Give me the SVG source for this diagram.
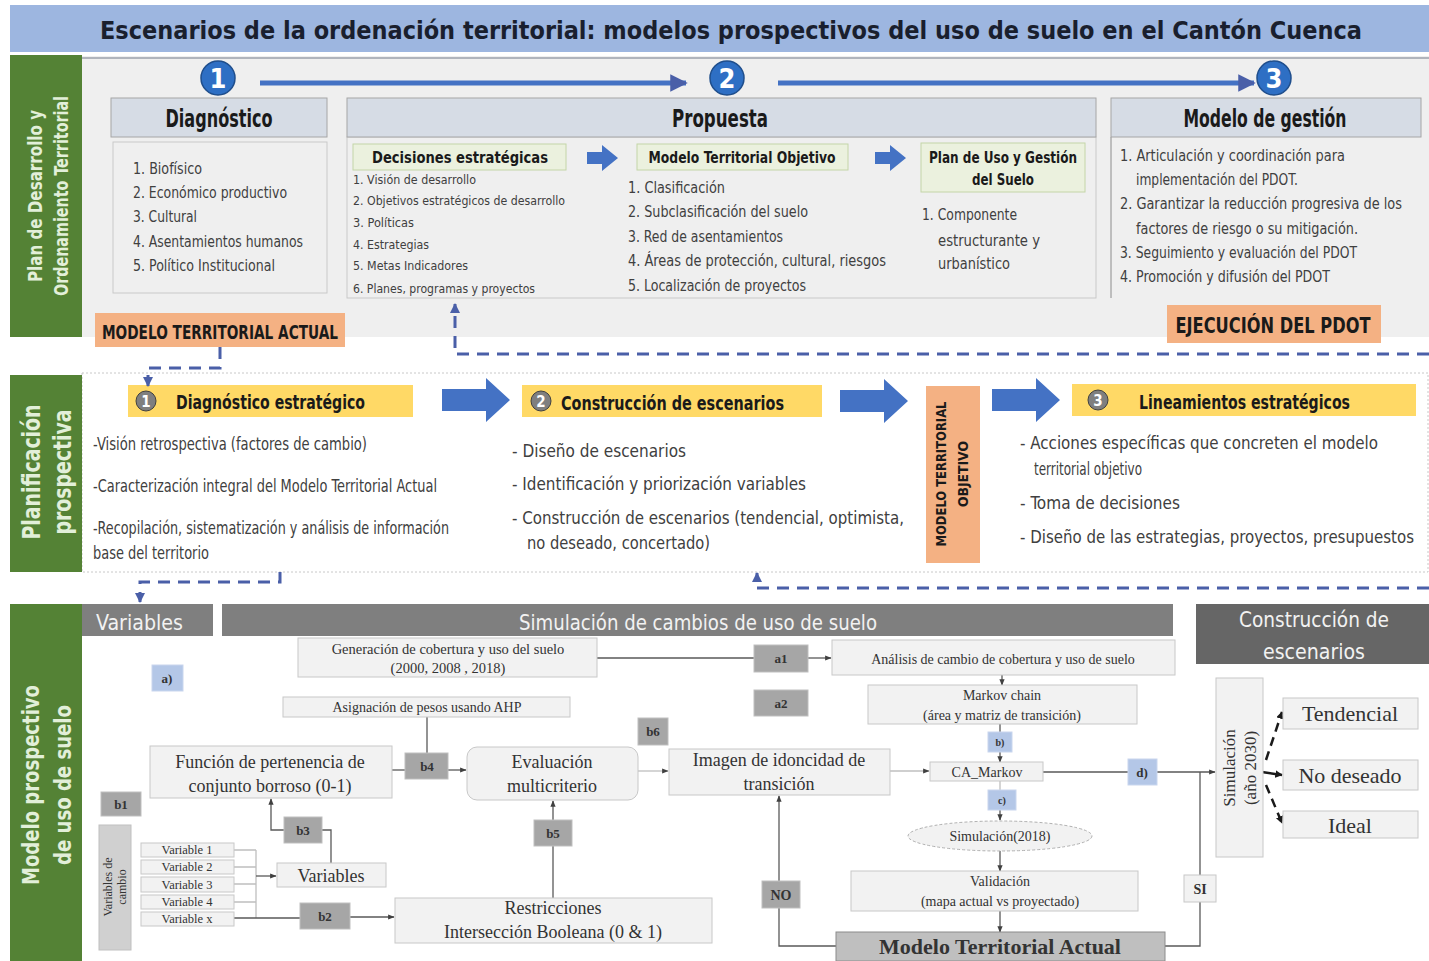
<svg xmlns="http://www.w3.org/2000/svg" width="1429" height="961" viewBox="0 0 1429 961">
<defs>
<style>
.c{font-family:"Liberation Sans Narrow","DejaVu Sans Condensed","Liberation Sans",sans-serif;font-stretch:condensed}
.b{font-weight:bold}
.s{font-family:"Liberation Serif","DejaVu Serif",serif;fill:#333}
.side{fill:#548235}
.sidet{fill:#e2efd9;font-weight:bold}
.hdr{fill:#d6dce5;stroke:#a6a6a6;stroke-width:1}
.body{fill:#efefef;stroke:#c9c9c9;stroke-width:1}
.grn{fill:#ebf1de;stroke:#c4d5a8;stroke-width:1}
.lst{fill:#404040}
.org{fill:#f4b183}
.yel{fill:#ffd966}
.gh{fill:#7f7f7f}
.ght{fill:#f2f2f2}
.nd{fill:#f2f2f2;stroke:#c8c8c8;stroke-width:1}
.lb{fill:#a6a6a6;stroke:#bfbfbf;stroke-width:1}
.lbb{fill:#b4c7e7;stroke:#c9d6ee;stroke-width:1}
.ln{fill:none;stroke:#595959;stroke-width:1.3}
.lnl{fill:none;stroke:#bfbfbf;stroke-width:1.3}
.dsh{fill:none;stroke:#4a5fa8;stroke-width:3;stroke-dasharray:12,8}
.blu{fill:#4472c4}
</style>
<marker id="ah" viewBox="0 0 10 10" refX="9" refY="5" markerWidth="5" markerHeight="5" orient="auto"><path d="M0,1 L10,5 L0,9 z" fill="#404040"/></marker>
<marker id="ahb" viewBox="0 0 10 10" refX="9" refY="5" markerWidth="3.5" markerHeight="3.5" orient="auto"><path d="M0,0 L10,5 L0,10 z" fill="#4a5fa8"/></marker>
<marker id="ahk" viewBox="0 0 10 10" refX="9" refY="5" markerWidth="3" markerHeight="3" orient="auto"><path d="M0,0 L10,5 L0,10 z" fill="#1a1a1a"/></marker>
</defs>
<rect width="1429" height="961" fill="#ffffff"/>

<g id="title">
<rect x="10" y="5" width="1419" height="47" fill="#9db6e0"/>
<text x="731" y="39" text-anchor="middle" class="c b" font-size="25" fill="#1a1f2e" textLength="1262" lengthAdjust="spacingAndGlyphs">Escenarios de la ordenación territorial: modelos prospectivos del uso de suelo en el Cantón Cuenca</text>
</g>

<!-- SECTION 1 -->
<g id="sec1">
<rect x="82" y="56" width="1347" height="281" fill="#efefef"/>
<line x1="82" y1="58" x2="1429" y2="58" stroke="#b0b4bc" stroke-width="2"/>
<rect x="10" y="55" width="72" height="282" class="side"/>
<text transform="translate(42,196) rotate(-90)" text-anchor="middle" class="c sidet" font-size="19" textLength="172" lengthAdjust="spacingAndGlyphs">Plan de Desarrollo y</text>
<text transform="translate(68,196) rotate(-90)" text-anchor="middle" class="c sidet" font-size="19" textLength="200" lengthAdjust="spacingAndGlyphs">Ordenamiento Territorial</text>
</g>

<g id="steps">
<circle cx="218" cy="78" r="17" fill="#2e6fc4" stroke="#1f4e8c" stroke-width="1.5"/>
<text x="218" y="88" text-anchor="middle" class="c b" font-size="27" fill="#fff">1</text>
<circle cx="727" cy="78" r="17" fill="#2e6fc4" stroke="#1f4e8c" stroke-width="1.5"/>
<text x="727" y="88" text-anchor="middle" class="c b" font-size="27" fill="#fff">2</text>
<circle cx="1274" cy="78" r="17" fill="#2e6fc4" stroke="#1f4e8c" stroke-width="1.5"/>
<text x="1274" y="88" text-anchor="middle" class="c b" font-size="27" fill="#fff">3</text>
</g>

<g id="diagnostico">
<rect x="111" y="98" width="216" height="39" class="hdr"/>
<text x="219" y="127" text-anchor="middle" class="c b" font-size="24" fill="#1a1a1a" textLength="107" lengthAdjust="spacingAndGlyphs">Diagnóstico</text>
<rect x="113" y="142" width="214" height="151" class="body"/>
<text x="133" y="174" class="c lst" font-size="16" textLength="69" lengthAdjust="spacingAndGlyphs">1. Biofísico</text>
<text x="133" y="198" class="c lst" font-size="16" textLength="154" lengthAdjust="spacingAndGlyphs">2. Económico productivo</text>
<text x="133" y="222" class="c lst" font-size="16" textLength="64" lengthAdjust="spacingAndGlyphs">3. Cultural</text>
<text x="133" y="247" class="c lst" font-size="16" textLength="170" lengthAdjust="spacingAndGlyphs">4. Asentamientos humanos</text>
<text x="133" y="271" class="c lst" font-size="16" textLength="142" lengthAdjust="spacingAndGlyphs">5. Político Institucional</text>
</g>

<g id="propuesta">
<rect x="347" y="137" width="749" height="161" class="body"/>
<rect x="347" y="98" width="749" height="39" class="hdr"/>
<text x="720" y="127" text-anchor="middle" class="c b" font-size="24" fill="#1a1a1a" textLength="96" lengthAdjust="spacingAndGlyphs">Propuesta</text>
<rect x="353" y="144" width="213" height="26" class="grn"/>
<text x="460" y="163" text-anchor="middle" class="c b" font-size="16" fill="#1a1a1a" textLength="176" lengthAdjust="spacingAndGlyphs">Decisiones estratégicas</text>
<text x="353" y="184" class="c lst" font-size="12" textLength="123" lengthAdjust="spacingAndGlyphs">1. Visión de desarrollo</text>
<text x="353" y="205" class="c lst" font-size="12" textLength="212" lengthAdjust="spacingAndGlyphs">2. Objetivos estratégicos de desarrollo</text>
<text x="353" y="227" class="c lst" font-size="12" textLength="61" lengthAdjust="spacingAndGlyphs">3. Políticas</text>
<text x="353" y="249" class="c lst" font-size="12" textLength="76" lengthAdjust="spacingAndGlyphs">4. Estrategias</text>
<text x="353" y="270" class="c lst" font-size="12" textLength="115" lengthAdjust="spacingAndGlyphs">5. Metas Indicadores</text>
<text x="353" y="293" class="c lst" font-size="12" textLength="182" lengthAdjust="spacingAndGlyphs">6. Planes, programas y proyectos</text>
<path d="M587,152 h15 v-7 l16,13 l-16,13 v-7 h-15 z" class="blu"/>
<rect x="637" y="144" width="211" height="26" class="grn"/>
<text x="742" y="163" text-anchor="middle" class="c b" font-size="16" fill="#1a1a1a" textLength="187" lengthAdjust="spacingAndGlyphs">Modelo Territorial Objetivo</text>
<text x="628" y="193" class="c lst" font-size="16" textLength="97" lengthAdjust="spacingAndGlyphs">1. Clasificación</text>
<text x="628" y="217" class="c lst" font-size="16" textLength="180" lengthAdjust="spacingAndGlyphs">2. Subclasificación del suelo</text>
<text x="628" y="242" class="c lst" font-size="16" textLength="155" lengthAdjust="spacingAndGlyphs">3. Red de asentamientos</text>
<text x="628" y="266" class="c lst" font-size="16" textLength="258" lengthAdjust="spacingAndGlyphs">4. Áreas de protección, cultural, riesgos</text>
<text x="628" y="291" class="c lst" font-size="16" textLength="178" lengthAdjust="spacingAndGlyphs">5. Localización de proyectos</text>
<path d="M875,152 h15 v-7 l16,13 l-16,13 v-7 h-15 z" class="blu"/>
<rect x="921" y="143" width="164" height="49" class="grn"/>
<text x="1003" y="163" text-anchor="middle" class="c b" font-size="16" fill="#1a1a1a" textLength="148" lengthAdjust="spacingAndGlyphs">Plan de Uso y Gestión</text>
<text x="1003" y="185" text-anchor="middle" class="c b" font-size="16" fill="#1a1a1a" textLength="62" lengthAdjust="spacingAndGlyphs">del Suelo</text>
<text x="922" y="220" class="c lst" font-size="16" textLength="95" lengthAdjust="spacingAndGlyphs">1. Componente</text>
<text x="938" y="246" class="c lst" font-size="16" textLength="102" lengthAdjust="spacingAndGlyphs">estructurante y</text>
<text x="938" y="269" class="c lst" font-size="16" textLength="72" lengthAdjust="spacingAndGlyphs">urbanístico</text>
</g>

<g id="modelo-gestion">
<rect x="1111" y="137" width="310" height="161" fill="#efefef"/>
<line x1="1111" y1="137" x2="1111" y2="298" stroke="#8c8c8c" stroke-width="1"/>
<rect x="1111" y="98" width="310" height="39" class="hdr"/>
<text x="1265" y="127" text-anchor="middle" class="c b" font-size="24" fill="#1a1a1a" textLength="163" lengthAdjust="spacingAndGlyphs">Modelo de gestión</text>
<text x="1120" y="161" class="c lst" font-size="16" textLength="225" lengthAdjust="spacingAndGlyphs">1. Articulación y coordinación para</text>
<text x="1136" y="185" class="c lst" font-size="16" textLength="162" lengthAdjust="spacingAndGlyphs">implementación del PDOT.</text>
<text x="1120" y="209" class="c lst" font-size="15" textLength="282" lengthAdjust="spacingAndGlyphs">2. Garantizar la reducción progresiva de los</text>
<text x="1136" y="234" class="c lst" font-size="16" textLength="222" lengthAdjust="spacingAndGlyphs">factores de riesgo o su mitigación.</text>
<text x="1120" y="258" class="c lst" font-size="16" textLength="237" lengthAdjust="spacingAndGlyphs">3. Seguimiento y evaluación del PDOT</text>
<text x="1120" y="282" class="c lst" font-size="16" textLength="210" lengthAdjust="spacingAndGlyphs">4. Promoción y difusión del PDOT</text>
</g>

<g id="mta">
<rect x="95" y="313" width="250" height="34" class="org"/>
<text x="220" y="339" text-anchor="middle" class="c b" font-size="20" fill="#1a1a1a" textLength="236" lengthAdjust="spacingAndGlyphs">MODELO TERRITORIAL ACTUAL</text>
</g>
<g id="ejecucion">
<rect x="1167" y="305" width="214" height="38" class="org"/>
<text x="1273" y="333" text-anchor="middle" class="c b" font-size="22" fill="#1a1a1a" textLength="195" lengthAdjust="spacingAndGlyphs">EJECUCIÓN DEL PDOT</text>
</g>

<!-- SECTION 2 -->
<g id="sec2">
<rect x="82" y="373" width="1346" height="199" fill="#ffffff" stroke="#c8c8c8" stroke-width="1" stroke-dasharray="2,2"/>
<rect x="10" y="375" width="72" height="197" class="side"/>
<text transform="translate(40,472) rotate(-90)" text-anchor="middle" class="c sidet" font-size="25" textLength="135" lengthAdjust="spacingAndGlyphs">Planificación</text>
<text transform="translate(71,472) rotate(-90)" text-anchor="middle" class="c sidet" font-size="25" textLength="125" lengthAdjust="spacingAndGlyphs">prospectiva</text>
</g>

<g id="diag-estrategico">
<rect x="128" y="385" width="285" height="32" class="yel"/>
<circle cx="146" cy="401" r="10" fill="#7f7f7f" stroke="#404040" stroke-width="1"/>
<text x="146" y="407" text-anchor="middle" class="c b" font-size="15" fill="#fff">1</text>
<text x="176" y="409" class="c b" font-size="19" fill="#1a1a1a" textLength="189" lengthAdjust="spacingAndGlyphs">Diagnóstico estratégico</text>
<text x="93" y="450" class="c lst" font-size="17" textLength="274" lengthAdjust="spacingAndGlyphs">-Visión retrospectiva (factores de cambio)</text>
<text x="93" y="492" class="c lst" font-size="17" textLength="344" lengthAdjust="spacingAndGlyphs">-Caracterización integral del Modelo Territorial Actual</text>
<text x="93" y="534" class="c lst" font-size="17" textLength="356" lengthAdjust="spacingAndGlyphs">-Recopilación, sistematización y análisis de información</text>
<text x="93" y="559" class="c lst" font-size="17" textLength="116" lengthAdjust="spacingAndGlyphs">base del territorio</text>
</g>

<g id="constr-escenarios">
<rect x="522" y="385" width="300" height="32" class="yel"/>
<circle cx="541" cy="401" r="10" fill="#7f7f7f" stroke="#404040" stroke-width="1"/>
<text x="541" y="407" text-anchor="middle" class="c b" font-size="15" fill="#fff">2</text>
<text x="561" y="410" class="c b" font-size="19" fill="#1a1a1a" textLength="223" lengthAdjust="spacingAndGlyphs">Construcción de escenarios</text>
<text x="512" y="457" class="c lst" font-size="18" textLength="174" lengthAdjust="spacingAndGlyphs">- Diseño de escenarios</text>
<text x="512" y="490" class="c lst" font-size="18" textLength="294" lengthAdjust="spacingAndGlyphs">- Identificación y priorización variables</text>
<text x="512" y="524" class="c lst" font-size="18" textLength="392" lengthAdjust="spacingAndGlyphs">- Construcción de escenarios (tendencial, optimista,</text>
<text x="527" y="549" class="c lst" font-size="18" textLength="183" lengthAdjust="spacingAndGlyphs">no deseado, concertado)</text>
</g>

<g id="mto">
<rect x="926" y="386" width="54" height="177" class="org"/>
<text transform="translate(946,474) rotate(-90)" text-anchor="middle" class="c b" font-size="14" fill="#1a1a1a" textLength="145" lengthAdjust="spacingAndGlyphs">MODELO TERRITORIAL</text>
<text transform="translate(968,474) rotate(-90)" text-anchor="middle" class="c b" font-size="14" fill="#1a1a1a" textLength="66" lengthAdjust="spacingAndGlyphs">OBJETIVO</text>
</g>

<g id="lineamientos">
<rect x="1072" y="384" width="344" height="32" class="yel"/>
<circle cx="1098" cy="400" r="10" fill="#7f7f7f" stroke="#404040" stroke-width="1"/>
<text x="1098" y="406" text-anchor="middle" class="c b" font-size="15" fill="#fff">3</text>
<text x="1139" y="409" class="c b" font-size="19" fill="#1a1a1a" textLength="211" lengthAdjust="spacingAndGlyphs">Lineamientos estratégicos</text>
<text x="1020" y="449" class="c lst" font-size="18" textLength="358" lengthAdjust="spacingAndGlyphs">- Acciones específicas que concreten el modelo</text>
<text x="1034" y="475" class="c lst" font-size="18" textLength="108" lengthAdjust="spacingAndGlyphs">territorial objetivo</text>
<text x="1020" y="509" class="c lst" font-size="18" textLength="160" lengthAdjust="spacingAndGlyphs">- Toma de decisiones</text>
<text x="1020" y="543" class="c lst" font-size="17" textLength="394" lengthAdjust="spacingAndGlyphs">- Diseño de las estrategias, proyectos, presupuestos</text>
</g>

<!-- SECTION 3 -->
<g id="sec3">
<rect x="10" y="604" width="72" height="357" class="side"/>
<text transform="translate(39,785) rotate(-90)" text-anchor="middle" class="c sidet" font-size="23" textLength="200" lengthAdjust="spacingAndGlyphs">Modelo prospectivo</text>
<text transform="translate(71,785) rotate(-90)" text-anchor="middle" class="c sidet" font-size="23" textLength="160" lengthAdjust="spacingAndGlyphs">de uso de suelo</text>
<rect x="82" y="604" width="131" height="32" class="gh"/>
<text x="96" y="630" class="c ght" font-size="22" textLength="87" lengthAdjust="spacingAndGlyphs">Variables</text>
<rect x="222" y="604" width="951" height="32" class="gh"/>
<text x="519" y="630" class="c ght" font-size="22" textLength="358" lengthAdjust="spacingAndGlyphs">Simulación de cambios de uso de suelo</text>
<rect x="1196" y="604" width="233" height="60" fill="#666666"/>
<text x="1314" y="627" text-anchor="middle" class="c ght" font-size="22" textLength="150" lengthAdjust="spacingAndGlyphs">Construcción de</text>
<text x="1314" y="659" text-anchor="middle" class="c ght" font-size="22" textLength="102" lengthAdjust="spacingAndGlyphs">escenarios</text>
</g>

<g id="connectors">
<line x1="260" y1="83" x2="686" y2="83" stroke="#4472c4" stroke-width="5" marker-end="url(#ahb)"/>
<line x1="778" y1="83" x2="1254" y2="83" stroke="#4472c4" stroke-width="5" marker-end="url(#ahb)"/>
<path d="M220,347 V368 H148 V386" class="dsh" marker-end="url(#ahb)"/>
<path d="M1429,354 H455 V304" class="dsh" marker-end="url(#ahb)"/>
<path d="M280,572 V582 H140 V602" class="dsh" marker-end="url(#ahb)"/>
<path d="M1429,588 H757 V573" class="dsh" marker-end="url(#ahb)"/>
<path d="M442,389 h44 v-11 l24,22 l-24,22 v-11 h-44 z" class="blu"/>
<path d="M840,390 h44 v-11 l24,22 l-24,22 v-11 h-44 z" class="blu"/>
<path d="M992,389 h44 v-11 l24,22 l-24,22 v-11 h-44 z" class="blu"/>
<line x1="597" y1="658" x2="754" y2="658" class="ln"/>
<line x1="808" y1="658" x2="831" y2="658" class="ln" marker-end="url(#ah)"/>
<line x1="1002" y1="675" x2="1002" y2="685" class="ln" marker-end="url(#ah)"/>
<line x1="1000" y1="724" x2="1000" y2="732" class="ln"/>
<line x1="1000" y1="752" x2="1000" y2="762" class="ln" marker-end="url(#ah)"/>
<line x1="1000" y1="781" x2="1000" y2="790" class="lnl"/>
<line x1="1000" y1="810" x2="1000" y2="820" class="ln" marker-end="url(#ah)"/>
<line x1="1000" y1="851" x2="1000" y2="871" class="ln" marker-end="url(#ah)"/>
<line x1="1000" y1="911" x2="1000" y2="932" class="ln" marker-end="url(#ah)"/>
<path d="M836,946 H779 V908" class="ln"/>
<line x1="779" y1="881" x2="779" y2="796" class="ln" marker-end="url(#ah)"/>
<path d="M1165,946 H1200 V902" class="ln"/>
<line x1="1200" y1="875" x2="1200" y2="772" class="ln"/>
<line x1="1043" y1="772" x2="1128" y2="772" class="ln"/>
<line x1="1157" y1="772" x2="1215" y2="772" class="ln" marker-end="url(#ah)"/>
<line x1="890" y1="771" x2="929" y2="771" class="lnl" marker-end="url(#ah)"/>
<line x1="638" y1="771" x2="668" y2="771" class="lnl" marker-end="url(#ah)"/>
<line x1="392" y1="770" x2="405" y2="770" class="ln"/>
<line x1="448" y1="770" x2="466" y2="770" class="ln" marker-end="url(#ah)"/>
<line x1="427" y1="717" x2="427" y2="753" class="ln"/>
<line x1="553" y1="898" x2="553" y2="846" class="ln"/>
<line x1="553" y1="820" x2="553" y2="801" class="ln" marker-end="url(#ah)"/>
<path d="M331,863 V830 H322" class="ln"/>
<path d="M284,830 H271 V799" class="ln" marker-end="url(#ah)"/>
<path d="M234,850 H256 M234,867 H256 M234,884 H256 M234,902 H256 M256,850 V918" class="lnl"/>
<line x1="256" y1="876" x2="276" y2="876" class="ln" marker-end="url(#ah)"/>
<line x1="234" y1="918" x2="300" y2="918" class="ln"/>
<line x1="350" y1="917" x2="394" y2="917" class="ln" marker-end="url(#ah)"/>
<path d="M1266,760 L1282,712" fill="none" stroke="#1a1a1a" stroke-width="2.5" stroke-dasharray="9,6" marker-end="url(#ahk)"/>
<path d="M1262,772 L1282,775" fill="none" stroke="#1a1a1a" stroke-width="2.5" marker-end="url(#ahk)"/>
<path d="M1266,785 L1282,823" fill="none" stroke="#1a1a1a" stroke-width="2.5" stroke-dasharray="9,6" marker-end="url(#ahk)"/>
</g>

<g id="n-generacion"><rect x="298" y="638" width="299" height="39" class="nd"/>
<text x="448" y="654" text-anchor="middle" class="s" font-size="14.5">Generación de cobertura y uso del suelo</text>
<text x="448" y="673" text-anchor="middle" class="s" font-size="14.5">(2000, 2008 , 2018)</text></g>

<g id="n-a"><rect x="152" y="665" width="31" height="26" class="lbb"/><text x="167" y="683" text-anchor="middle" class="s b" font-size="13">a)</text></g>

<g id="n-ahp"><rect x="283" y="697" width="287" height="20" class="nd"/>
<text x="427" y="712" text-anchor="middle" class="s" font-size="14">Asignación de pesos usando AHP</text></g>

<g id="n-funcion"><rect x="150" y="746" width="242" height="52" class="nd"/>
<text x="270" y="768" text-anchor="middle" class="s" font-size="18">Función de pertenencia de</text>
<text x="270" y="792" text-anchor="middle" class="s" font-size="18">conjunto borroso (0-1)</text></g>

<g id="n-b1"><rect x="101" y="792" width="40" height="24" class="lb"/><text x="121" y="809" text-anchor="middle" class="s b" font-size="13">b1</text></g>

<g id="n-varcambio"><rect x="99" y="825" width="32" height="125" fill="#d0d0d0" stroke="#c0c0c0"/>
<text transform="translate(112,887) rotate(-90)" text-anchor="middle" class="s" font-size="12">Variables de</text>
<text transform="translate(126,887) rotate(-90)" text-anchor="middle" class="s" font-size="12">cambio</text></g>

<g id="n-vars">
<rect x="141" y="843" width="93" height="14" class="nd"/><text x="187" y="854" text-anchor="middle" class="s" font-size="12.5">Variable 1</text>
<rect x="141" y="860" width="93" height="14" class="nd"/><text x="187" y="871" text-anchor="middle" class="s" font-size="12.5">Variable 2</text>
<rect x="141" y="877" width="93" height="15" class="nd"/><text x="187" y="889" text-anchor="middle" class="s" font-size="12.5">Variable 3</text>
<rect x="141" y="895" width="93" height="14" class="nd"/><text x="187" y="906" text-anchor="middle" class="s" font-size="12.5">Variable 4</text>
<rect x="141" y="912" width="93" height="14" class="nd"/><text x="187" y="923" text-anchor="middle" class="s" font-size="12.5">Variable x</text>
</g>

<g id="n-variables"><rect x="277" y="863" width="109" height="24" class="nd"/>
<text x="331" y="882" text-anchor="middle" class="s" font-size="18">Variables</text></g>

<g id="n-b3"><rect x="284" y="817" width="38" height="26" class="lb"/><text x="303" y="835" text-anchor="middle" class="s b" font-size="13">b3</text></g>
<g id="n-b2"><rect x="300" y="903" width="50" height="26" class="lb"/><text x="325" y="921" text-anchor="middle" class="s b" font-size="13">b2</text></g>
<g id="n-b4"><rect x="405" y="753" width="43" height="26" class="lb"/><text x="427" y="771" text-anchor="middle" class="s b" font-size="13">b4</text></g>

<g id="n-evaluacion"><rect x="467" y="747" width="171" height="53" rx="10" class="nd"/>
<text x="552" y="768" text-anchor="middle" class="s" font-size="18">Evaluación</text>
<text x="552" y="792" text-anchor="middle" class="s" font-size="18">multicriterio</text></g>

<g id="n-b5"><rect x="534" y="820" width="38" height="26" class="lb"/><text x="553" y="838" text-anchor="middle" class="s b" font-size="13">b5</text></g>

<g id="n-restricciones"><rect x="395" y="898" width="317" height="45" class="nd"/>
<text x="553" y="914" text-anchor="middle" class="s" font-size="18">Restricciones</text>
<text x="553" y="938" text-anchor="middle" class="s" font-size="18">Intersección Booleana (0 &amp; 1)</text></g>

<g id="n-b6"><rect x="638" y="718" width="30" height="27" class="lb"/><text x="653" y="736" text-anchor="middle" class="s b" font-size="13">b6</text></g>

<g id="n-imagen"><rect x="669" y="749" width="221" height="46" class="nd"/>
<text x="779" y="766" text-anchor="middle" class="s" font-size="18">Imagen de idoncidad de</text>
<text x="779" y="790" text-anchor="middle" class="s" font-size="18">transición</text></g>

<g id="n-a1"><rect x="754" y="645" width="54" height="27" class="lb"/><text x="781" y="663" text-anchor="middle" class="s b" font-size="13">a1</text></g>
<g id="n-a2"><rect x="754" y="690" width="54" height="26" class="lb"/><text x="781" y="708" text-anchor="middle" class="s b" font-size="13">a2</text></g>

<g id="n-analisis"><rect x="832" y="640" width="343" height="35" class="nd"/>
<text x="1003" y="664" text-anchor="middle" class="s" font-size="14">Análisis de cambio de cobertura y uso de suelo</text></g>

<g id="n-markov"><rect x="868" y="685" width="269" height="39" class="nd"/>
<text x="1002" y="700" text-anchor="middle" class="s" font-size="14">Markov chain</text>
<text x="1002" y="720" text-anchor="middle" class="s" font-size="14">(área y matriz de transición)</text></g>

<g id="n-b"><rect x="988" y="732" width="24" height="20" class="lbb"/><text x="1000" y="746" text-anchor="middle" class="s b" font-size="10">b)</text></g>

<g id="n-camarkov"><rect x="930" y="762" width="113" height="19" class="nd"/>
<text x="987" y="777" text-anchor="middle" class="s" font-size="14">CA_Markov</text></g>

<g id="n-c"><rect x="988" y="790" width="28" height="20" class="lbb"/><text x="1002" y="804" text-anchor="middle" class="s b" font-size="10">c)</text></g>

<g id="n-sim2018"><ellipse cx="1000" cy="836" rx="92" ry="15" fill="#f2f2f2" stroke="#b0b0b0" stroke-dasharray="3,2"/>
<text x="1000" y="841" text-anchor="middle" class="s" font-size="14">Simulación(2018)</text></g>

<g id="n-validacion"><rect x="851" y="871" width="287" height="40" class="nd"/>
<text x="1000" y="886" text-anchor="middle" class="s" font-size="14">Validación</text>
<text x="1000" y="906" text-anchor="middle" class="s" font-size="14">(mapa actual vs proyectado)</text></g>

<g id="n-mta"><rect x="836" y="932" width="329" height="29" fill="#bfbfbf" stroke="#8c8c8c"/>
<text x="1000" y="954" text-anchor="middle" class="s b" font-size="22" fill="#262626">Modelo Territorial Actual</text></g>

<g id="n-no"><rect x="762" y="881" width="38" height="27" class="lb" fill="#bfbfbf"/><text x="781" y="900" text-anchor="middle" class="s b" font-size="14">NO</text></g>
<g id="n-si"><rect x="1184" y="875" width="32" height="27" class="nd"/><text x="1200" y="894" text-anchor="middle" class="s b" font-size="14">SI</text></g>
<g id="n-d"><rect x="1128" y="759" width="29" height="26" class="lbb"/><text x="1142" y="777" text-anchor="middle" class="s b" font-size="13">d)</text></g>

<g id="n-sim2030"><rect x="1216" y="678" width="47" height="179" class="nd"/>
<text transform="translate(1235,768) rotate(-90)" text-anchor="middle" class="s" font-size="17">Simulación</text>
<text transform="translate(1256,768) rotate(-90)" text-anchor="middle" class="s" font-size="17">(año 2030)</text></g>

<g id="n-tendencial"><rect x="1283" y="698" width="135" height="31" class="nd"/>
<text x="1350" y="721" text-anchor="middle" class="s" font-size="22">Tendencial</text></g>
<g id="n-nodeseado"><rect x="1283" y="760" width="135" height="30" class="nd"/>
<text x="1350" y="783" text-anchor="middle" class="s" font-size="22">No deseado</text></g>
<g id="n-ideal"><rect x="1283" y="811" width="135" height="27" class="nd"/>
<text x="1350" y="833" text-anchor="middle" class="s" font-size="22">Ideal</text></g>
</svg>
